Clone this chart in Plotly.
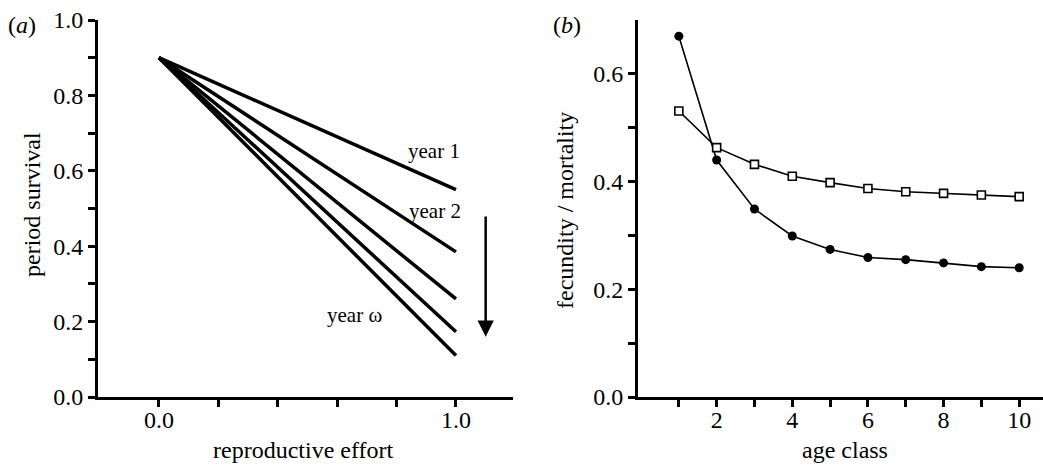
import plotly.graph_objects as go

# Panel (a): period survival vs reproductive effort
effort = [0.0, 1.0]
survival_start = 0.9
survival_end = [0.55, 0.385, 0.26, 0.173, 0.11]
year_labels = ["year 1", "year 2", "year ω"]

# Panel (b): fecundity / mortality vs age class
age_class = [1, 2, 3, 4, 5, 6, 7, 8, 9, 10]
filled_series = [0.670, 0.440, 0.349, 0.299, 0.274, 0.259, 0.255, 0.249, 0.242, 0.240]
open_series = [0.531, 0.463, 0.432, 0.410, 0.398, 0.387, 0.381, 0.378, 0.375, 0.372]

FONT = "Liberation Serif"
W, H = 1043, 466

fig = go.Figure()
for end in survival_end:
    fig.add_trace(go.Scatter(x=effort, y=[survival_start, end], mode="lines",
                             line=dict(color="black", width=3.5),
                             xaxis="x", yaxis="y", showlegend=False))

fig.add_trace(go.Scatter(x=age_class, y=filled_series, mode="lines+markers",
                         line=dict(color="black", width=1.6),
                         marker=dict(symbol="circle", size=9, color="black"),
                         xaxis="x2", yaxis="y2", showlegend=False))
fig.add_trace(go.Scatter(x=age_class, y=open_series, mode="lines+markers",
                         line=dict(color="black", width=1.6),
                         marker=dict(symbol="square", size=8, color="white",
                                     line=dict(color="black", width=1.6)),
                         xaxis="x2", yaxis="y2", showlegend=False))

def px_x(p):
    return p / W

def px_y(p):
    return 1 - p / H

axis_common = dict(showline=True, linecolor="black", linewidth=3, ticks="outside",
                   ticklen=7, tickwidth=2.5, tickcolor="black", showgrid=False,
                   zeroline=False, automargin=False,
                   tickfont=dict(family=FONT, size=24, color="black"))

y_dom = [px_y(397), px_y(20)]

fig.update_layout(
    template="none",
    width=W, height=H, margin=dict(l=0, r=0, t=0, b=0, pad=0),
    paper_bgcolor="white", plot_bgcolor="white",
    xaxis=dict(domain=[px_x(98), px_x(513)], range=[-0.205, 1.192],
               tickvals=[0, 0.2, 0.4, 0.6, 0.8, 1.0],
               ticktext=["0.0", "", "", "", "", "1.0"], anchor="y",
               ticklabelstandoff=-8, **axis_common),
    yaxis=dict(domain=y_dom, range=[0, 1.0],
               tickvals=[0, 0.1, 0.2, 0.3, 0.4, 0.5, 0.6, 0.7, 0.8, 0.9, 1.0],
               ticktext=["0.0", "", "0.2", "", "0.4", "", "0.6", "", "0.8", "", "1.0"],
               anchor="x", **axis_common),
    xaxis2=dict(domain=[px_x(638), 1.0], range=[-0.08, 10.63],
                tickvals=age_class,
                ticktext=["", "2", "", "4", "", "6", "", "8", "", "10"], anchor="y2",
                ticklabelstandoff=-8, **axis_common),
    yaxis2=dict(domain=y_dom, range=[0, 0.70],
                tickvals=[0, 0.1, 0.2, 0.3, 0.4, 0.5, 0.6],
                ticktext=["0.0", "", "0.2", "", "0.4", "", "0.6"],
                anchor="x2", **axis_common),
)

tfont = dict(family=FONT, size=24, color="black")
lfont = dict(family=FONT, size=21, color="black")
C = dict(xanchor="center", yanchor="middle", showarrow=False)

annotations = [
    dict(text="(<i>a</i>)", x=px_x(22), y=px_y(25), xref="paper", yref="paper", font=tfont, **C),
    dict(text="(<i>b</i>)", x=px_x(567), y=px_y(25), xref="paper", yref="paper", font=tfont, **C),
    dict(text="reproductive effort", x=px_x(303), y=px_y(450), xref="paper", yref="paper",
         font=tfont, **C),
    dict(text="period survival", x=px_x(32), y=px_y(205), xref="paper", yref="paper",
         font=tfont, textangle=-90, **C),
    dict(text="age class", x=px_x(845), y=px_y(450), xref="paper", yref="paper", font=tfont, **C),
    dict(text="fecundity / mortality", x=px_x(565), y=px_y(211), xref="paper", yref="paper",
         font=tfont, textangle=-90, **C),
    dict(text=year_labels[0], x=0.925, y=0.652, xref="x", yref="y", font=lfont, **C),
    dict(text=year_labels[1], x=0.928, y=0.493, xref="x", yref="y", font=lfont, **C),
    dict(text=year_labels[2], x=0.66, y=0.217, xref="x", yref="y", font=lfont, **C),
    dict(x=1.10, y=0.16, ax=1.10, ay=0.483, xref="x", yref="y", axref="x", ayref="y",
         showarrow=True, arrowhead=2, arrowsize=1.3, arrowwidth=2.5, arrowcolor="black", text=""),
]
fig.update_layout(annotations=annotations)

fig.write_html("out.html", config={"displayModeBar": False},
               post_script="document.body.style.margin='0';document.body.style.overflow='hidden';")
